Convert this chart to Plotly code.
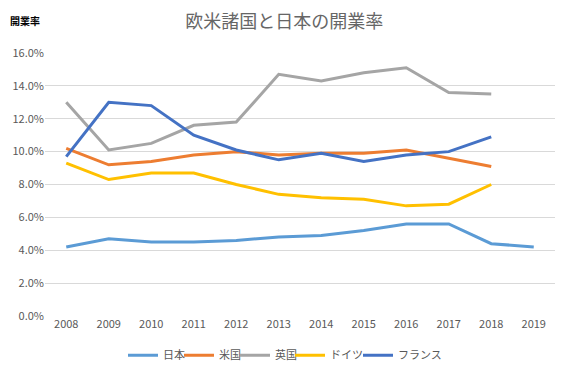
import plotly.graph_objects as go

years = ["2008", "2009", "2010", "2011", "2012", "2013", "2014", "2015", "2016", "2017", "2018", "2019"]
japan = [4.2, 4.7, 4.5, 4.5, 4.6, 4.8, 4.9, 5.2, 5.6, 5.6, 4.4, 4.2]
usa = [10.2, 9.2, 9.4, 9.8, 10.0, 9.8, 9.9, 9.9, 10.1, 9.6, 9.1, None]
uk = [13.0, 10.1, 10.5, 11.6, 11.8, 14.7, 14.3, 14.8, 15.1, 13.6, 13.5, None]
germany = [9.3, 8.3, 8.7, 8.7, 8.0, 7.4, 7.2, 7.1, 6.7, 6.8, 8.0, None]
france = [9.7, 13.0, 12.8, 11.0, 10.1, 9.5, 9.9, 9.4, 9.8, 10.0, 10.9, None]

series = [
    ("日本", japan, "#5B9BD5"),
    ("米国", usa, "#ED7D31"),
    ("英国", uk, "#A5A5A5"),
    ("ドイツ", germany, "#FFC000"),
    ("フランス", france, "#4472C4"),
]

# legend entry left positions (container px)
legend_x_px = [115, 171, 227, 282, 350]

font_family = "Noto Sans CJK JP, Noto Sans, sans-serif"
W, H = 559, 362

fig = go.Figure()
legends = {}
for i, (name, vals, color) in enumerate(series):
    key = "legend" if i == 0 else f"legend{i+1}"
    fig.add_trace(go.Scatter(
        x=years, y=[v / 100 if v is not None else None for v in vals],
        name=name, mode="lines",
        line=dict(color=color, width=3),
        legend=key,
    ))
    legends[key] = dict(
        orientation="h", xref="container", x=legend_x_px[i] / W, xanchor="left",
        yref="container", y=0.041, yanchor="middle",
        font=dict(size=11, color="#595959", family=font_family),
        itemwidth=30, bgcolor="rgba(0,0,0,0)",
    )

fig.update_layout(
    width=W, height=H,
    margin=dict(l=37, r=12, t=45, b=54, autoexpand=False),
    paper_bgcolor="white", plot_bgcolor="white",
    font=dict(family=font_family, color="#595959", size=11),
    title=dict(text="欧米諸国と日本の開業率", x=0.494, xanchor="center",
               yref="container", y=0.961, yanchor="middle",
               font=dict(size=18, color="#666666", family=font_family)),
    showlegend=True,
    xaxis=dict(type="category", showgrid=False, showline=False, zeroline=False,
               tickfont=dict(size=11, color="#595959"), ticks="", range=[-0.5, 11.5]),
    yaxis=dict(range=[0, 0.16], dtick=0.02, tickformat=".1%", showgrid=True,
               gridcolor="#D9D9D9", gridwidth=1, zeroline=False, showline=False,
               tickfont=dict(size=11, color="#595959"), ticks="", ticklen=0),
    annotations=[dict(text="<b>開業率</b>", x=-0.0725, y=1.125, xref="paper", yref="paper",
                      xanchor="left", yanchor="middle",
                      showarrow=False, font=dict(size=10, color="#000000"))],
)
fig.update_layout(**legends)

fig.write_html("out.html")
